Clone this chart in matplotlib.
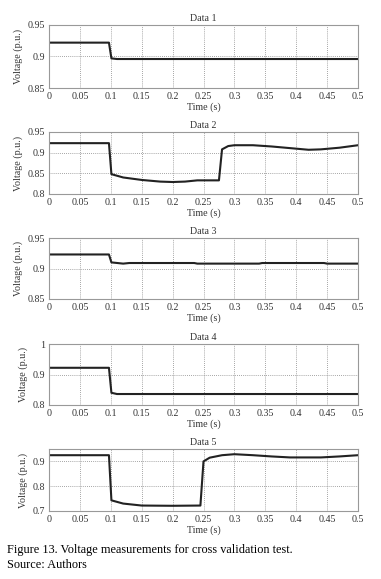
"""
Voltage measurements for the cross validation test (Figure 13).
Five stacked panels, one per data set.
"""

import matplotlib

matplotlib.use("Agg")
import matplotlib.pyplot as plt

# Data 1
t1 = [0.0, 0.097, 0.101, 0.11, 0.5]
v1 = [0.922, 0.922, 0.897, 0.896, 0.896]

# Data 2
t2 = [0.0, 0.097, 0.101, 0.12, 0.15, 0.18, 0.2, 0.22, 0.24, 0.275, 0.28,
      0.29, 0.3, 0.33, 0.36, 0.39, 0.42, 0.44, 0.47, 0.5]
v2 = [0.923, 0.923, 0.848, 0.840, 0.834, 0.830, 0.829, 0.830, 0.833, 0.833,
      0.908, 0.916, 0.918, 0.918, 0.915, 0.911, 0.907, 0.908, 0.912, 0.918]

# Data 3
t3 = [0.0, 0.097, 0.101, 0.12, 0.13, 0.235, 0.24, 0.34, 0.345, 0.445,
      0.45, 0.5]
v3 = [0.923, 0.923, 0.910, 0.908, 0.909, 0.909, 0.908, 0.908, 0.909, 0.909,
      0.908, 0.908]

# Data 4
t4 = [0.0, 0.097, 0.101, 0.11, 0.5]
v4 = [0.922, 0.922, 0.840, 0.836, 0.836]

# Data 5
t5 = [0.0, 0.097, 0.101, 0.12, 0.15, 0.2, 0.245, 0.25, 0.26, 0.28, 0.3,
      0.33, 0.36, 0.39, 0.44, 0.47, 0.5]
v5 = [0.925, 0.925, 0.743, 0.730, 0.722, 0.721, 0.722, 0.900, 0.915, 0.925,
      0.929, 0.925, 0.920, 0.916, 0.916, 0.920, 0.925]

series = [(t1, v1), (t2, v2), (t3, v3), (t4, v4), (t5, v5)]
titles = ["Data 1", "Data 2", "Data 3", "Data 4", "Data 5"]
ylims = [(0.85, 0.95), (0.8, 0.95), (0.85, 0.95), (0.8, 1.0), (0.7, 0.95)]
yticks = [
    [0.85, 0.9, 0.95],
    [0.8, 0.85, 0.9, 0.95],
    [0.85, 0.9, 0.95],
    [0.8, 0.9, 1.0],
    [0.7, 0.8, 0.9],
]
ytick_labels = [
    ["0.85", "0.9", "0.95"],
    ["0.8", "0.85", "0.9", "0.95"],
    ["0.85", "0.9", "0.95"],
    ["0.8", "0.9", "1"],
    ["0.7", "0.8", "0.9"],
]
xticks = [0, 0.05, 0.1, 0.15, 0.2, 0.25, 0.3, 0.35, 0.4, 0.45, 0.5]
xtick_labels = ["0", "0.05", "0.1", "0.15", "0.2", "0.25", "0.3", "0.35",
                "0.4", "0.45", "0.5"]

# axes boxes in pixels: (top, bottom)
W, H = 381, 579
boxes = [(25, 88), (132, 194), (238, 299), (344, 405), (449, 511)]
left, right = 49, 358

plt.rcParams["font.family"] = ["Liberation Serif", "DejaVu Serif"]

fig = plt.figure(figsize=(W / 100, H / 100), dpi=100)

for i, (t, v) in enumerate(series):
    top, bottom = boxes[i]
    ax = fig.add_axes([left / W, 1 - bottom / H, (right - left) / W,
                       (bottom - top) / H])
    ax.plot(t, v, color="#222222", lw=1.5)
    ax.set_xlim(0, 0.5)
    ax.set_ylim(*ylims[i])
    ax.set_xticks(xticks)
    ax.set_xticklabels(xtick_labels)
    ax.set_yticks(yticks[i])
    ax.set_yticklabels(ytick_labels[i])
    ax.grid(True, color="#888888", linestyle=(0, (1, 1.5)), lw=0.6)
    ax.tick_params(labelsize=7.2, length=0, pad=3, colors="#333333")
    for s in ax.spines.values():
        s.set_color("#999999")
        s.set_linewidth(0.8)
    ax.set_title(titles[i], fontsize=7.2, pad=3, color="#333333")
    ax.set_xlabel("Time (s)", fontsize=7.2, labelpad=1, color="#333333")
    ax.set_ylabel("Voltage (p.u.)", fontsize=7.2, labelpad=3, color="#333333")

fig.text(7 / W, 1 - 550 / H, "Figure 13. Voltage measurements for cross validation test.",
         fontsize=8.8, va="center", ha="left")
fig.text(7 / W, 1 - 565 / H, "Source: Authors", fontsize=8.8, va="center",
         ha="left")

fig.savefig("out.png", dpi=100)
